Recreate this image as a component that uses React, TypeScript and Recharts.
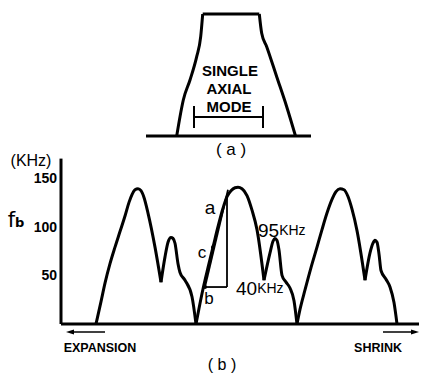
import { LineChart, Line, XAxis, YAxis, ReferenceLine, ReferenceDot } from 'recharts'

// (b) beat frequency f_b along the scan, in kHz; x is the scan position
const leftLobe = [[35, 0], [40, 23], [44, 42], [49, 62], [54, 79], [59, 95], [64, 111], [68, 125], [71, 133], [74, 138], [77, 139], [80, 137], [83, 130], [87, 114], [94, 79], [100, 43]]
const leftSide = [[100, 43], [104, 69], [107, 84], [110, 89], [112, 88], [114, 83], [117, 62], [119, 53], [124, 45], [131, 28], [135, 0]]
const midLobe = [[135, 0], [138, 16], [142, 36], [147, 58], [152, 79], [157, 100], [162, 119], [166, 131], [170, 137], [174, 140], [177, 140.5], [181, 139], [186, 132], [191, 117], [196, 97], [203, 45]]
const midSide = [[203, 45], [209, 73], [212, 85], [214, 88], [216, 86], [218, 76], [221, 50], [225, 43], [229, 37], [233, 24], [236, 0]]
const rightLobe = [[236, 0], [239, 15], [244, 35], [250, 58], [256, 79], [261, 97], [266, 114], [271, 128], [275, 136], [279, 139], [283, 138], [287, 131], [291, 118], [296, 96], [304, 45]]
const rightSide = [[304, 45], [309, 73], [312, 83], [314, 86], [316, 84], [318, 72], [320, 55], [325, 46], [329, 38], [333, 22], [336, 0]]
const slopeLine = [[144, 38], [167, 138]]
const riseLine = [[166, 38], [166, 134]]
const runLine = [[144, 38], [166, 38]]
const yTicks = [50, 100, 150]

// (a) single axial mode envelope
const modeLeft = [[33.7, 0], [37, 15.8], [40.3, 29.5], [47, 45.9], [53.7, 65], [57.7, 81.4], [59.7, 100]]
const modeTop = [[59.7, 100], [116.3, 100]]
const modeRight = [[116.3, 100], [118.7, 84.2], [123.7, 73.2], [133.7, 48.6], [143.7, 24], [152.5, 0]]
const modeBase = [[3, 0], [168, 0]]
const bracketBar = [[51, 15.6], [120, 15.6]]
const bracketLeft = [[51, 6.6], [51, 24.6]]
const bracketRight = [[120, 6.6], [120, 24.6]]

const toRows = (pts: number[][]) => pts.map(([x, v]) => ({ x, v }))
const font = '"Liberation Sans", Arial, sans-serif'

function Seg({ pts, w = 3, type = 'monotone' }: { pts: number[][]; w?: number; type?: any }) {
  return (
    <Line data={toRows(pts)} dataKey="v" type={type} stroke="#000" strokeWidth={w} dot={false} isAnimationActive={false} />
  )
}

function textShape(main: string, small: string, big: number, little: number, anchor = 'middle') {
  return (p: any) => (
    <text x={p.cx} y={p.cy} dominantBaseline="central" textAnchor={anchor} fontFamily={font} fill="#000">
      <tspan fontSize={big}>{main}</tspan>
      {small ? <tspan fontSize={little}>{small}</tspan> : null}
    </text>
  )
}

const abs = (left: number, top: number, size: number, extra: any = {}) => ({
  position: 'absolute' as const, left, top, fontSize: size, lineHeight: 1, fontFamily: font,
  transform: 'translate(-50%, -50%)', whiteSpace: 'nowrap' as const, ...extra,
})

export default function App() {
  return (
    <div style={{ position: 'absolute', left: 0, top: 0, width: 421, height: 374, background: '#fff', overflow: 'hidden' }}>
      <div style={{ position: 'absolute', left: 143, top: 10 }}>
        <LineChart width={170} height={130} margin={{ top: 4, right: 0, bottom: 4, left: 0 }}>
          <XAxis type="number" dataKey="x" domain={[0, 170]} hide />
          <YAxis type="number" domain={[0, 100]} hide />
          <Seg pts={modeBase} type="linear" />
          <Seg pts={modeLeft} />
          <Seg pts={modeTop} type="linear" />
          <Seg pts={modeRight} />
          <Seg pts={bracketBar} w={2} type="linear" />
          <Seg pts={bracketLeft} w={2} type="linear" />
          <Seg pts={bracketRight} w={2} type="linear" />
        </LineChart>
      </div>
      <div style={abs(230, 70, 15, { fontWeight: 'bold' })}>SINGLE</div>
      <div style={abs(229, 88, 15, { fontWeight: 'bold' })}>AXIAL</div>
      <div style={abs(229, 106, 15, { fontWeight: 'bold' })}>MODE</div>
      <div style={abs(231, 149, 17)}>( a )</div>

      <div style={{ position: 'absolute', left: 0, top: 150 }}>
        <LineChart width={421} height={200} margin={{ top: 8.6, right: 2, bottom: 26, left: 0 }}>
          <XAxis type="number" dataKey="x" domain={[0, 358]} hide />
          <YAxis
            type="number"
            domain={[0, 170]}
            ticks={yTicks}
            width={61}
            axisLine={{ stroke: '#000', strokeWidth: 3 }}
            tickLine={false}
            tickSize={0}
            tickMargin={4}
            tick={{ fill: '#000', fontSize: 14, fontWeight: 'bold', fontFamily: font }}
          />
          <ReferenceLine y={0} stroke="#000" strokeWidth={3} />
          <Seg pts={leftLobe} />
          <Seg pts={leftSide} />
          <Seg pts={midLobe} />
          <Seg pts={midSide} />
          <Seg pts={rightLobe} />
          <Seg pts={rightSide} />
          <Seg pts={slopeLine} w={1.8} type="linear" />
          <Seg pts={riseLine} w={1.8} type="linear" />
          <Seg pts={runLine} w={1.8} type="linear" />
          <ReferenceDot x={152} y={79} r={2} fill="#000" stroke="none" />
          <ReferenceDot x={144} y={38} r={2} fill="#000" stroke="none" />
          <ReferenceDot x={149} y={120} shape={textShape('a', '', 19, 0)} />
          <ReferenceDot x={141} y={74} shape={textShape('c', '', 17, 0)} />
          <ReferenceDot x={148} y={27} shape={textShape('b', '', 17, 0)} />
          <ReferenceDot x={197} y={97} shape={textShape('95', 'KHz', 19, 14, 'start')} />
          <ReferenceDot x={175} y={37} shape={textShape('40', 'KHz', 19, 14, 'start')} />
        </LineChart>
      </div>
      <div style={abs(31, 161, 16)}>(KHz)</div>
      <div style={abs(16, 220, 21, { fontFamily: '"DejaVu Sans", sans-serif' })}>
        f<span style={{ fontSize: 13, fontWeight: 'bold' }}>b</span>
      </div>
      <svg style={{ position: 'absolute', left: 0, top: 0 }} width={421} height={374}>
        <line x1={70} y1={332} x2={105} y2={332} stroke="#000" strokeWidth={1.5} />
        <path d="M66 332 L74 329.5 L74 334.5 Z" fill="#000" />
        <line x1={383} y1={332} x2={414} y2={332} stroke="#000" strokeWidth={1.5} />
        <path d="M419 332 L411 329.5 L411 334.5 Z" fill="#000" />
      </svg>
      <div style={abs(100, 348, 12.5, { fontWeight: 'bold' })}>EXPANSION</div>
      <div style={abs(378, 348, 12.5, { fontWeight: 'bold' })}>SHRINK</div>
      <div style={abs(222, 365, 16)}>( b )</div>
    </div>
  )
}
